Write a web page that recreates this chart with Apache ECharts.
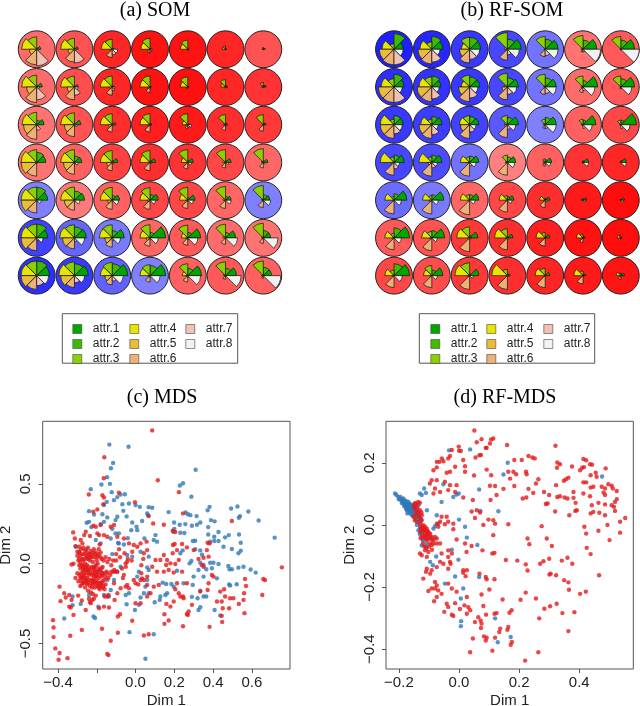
<!DOCTYPE html>
<html><head><meta charset="utf-8">
<style>html,body{margin:0;padding:0;background:#fff}#c{width:640px;height:706px}</style>
<script src="https://cdn.jsdelivr.net/npm/echarts@6/dist/echarts.min.js"></script>
</head><body><div id="c"></div>
<script>
const attrNames=['attr.1','attr.2','attr.3','attr.4','attr.5','attr.6','attr.7','attr.8'];
const attrColors=['#00A600','#3EBB00','#8BD000','#E6E600','#E9BD3A','#ECB176','#EFC2B3','#F2F2F2'];
const panelTitles=['(a) SOM','(b) RF-SOM','(c) MDS','(d) RF-MDS'];
/* background class score per map unit, row by row: + red, - blue */
const somScore=[.58,.68,.85,.93,.93,.85,.68, .58,.7,.85,.93,.94,.85,.8, .55,.68,.82,.88,.9,.82,.78, .55,.62,.75,.82,.8,.72,.6, -.5,.52,.62,.72,.72,.6,-.5, -.75,-.6,-.52,.6,.65,.58,.55, -.82,-.78,-.62,-.5,.62,.65,.62];
const rfScore=[-.88,-.85,-.78,-.72,-.55,.55,.65, -.82,-.8,-.78,-.72,-.55,.58,.65, -.78,-.76,-.74,-.65,-.5,.62,.72, -.72,-.7,-.55,.5,.62,.8,.85, -.58,-.52,.6,.72,.82,.9,.95, .65,.68,.78,.82,.88,.93,.95, .72,.7,.78,.82,.86,.9,.92];
/* codebook wedge lengths, one row of the map per line */
const somAttr1=[.22,.2,.1,.06,.05,.05,.1, .3,.2,.1,.05,.05,.1,.15, .4,.35,.2,.1,.1,.1,.15, .5,.4,.3,.3,.3,.3,.25, .6,.55,.4,.45,.4,.3,.35, .6,.65,.65,.85,.7,.55,.4, .7,.75,.85,.85,.75,.6,.45];
const somAttr2=[.08,.05,.03,.03,.03,.03,.05, .1,.05,.03,.03,.03,.05,.1, .25,.1,.05,.05,.05,.08,.1, .55,.35,.1,.1,.1,.1,.1, .7,.5,.25,.3,.15,.2,.3, .75,.6,.4,.3,.3,.3,.4, .8,.65,.65,.55,.4,.4,.45];
const somAttr3=[.68,.6,.55,.6,.5,.18,.1, .65,.6,.6,.6,.55,.4,.25, .68,.65,.6,.6,.6,.55,.55, .7,.7,.65,.65,.7,.7,.75, .72,.72,.7,.68,.7,.75,.8, .75,.72,.72,.72,.7,.75,.8, .8,.75,.72,.6,.65,.75,.8];
const somAttr4=[.82,.75,.6,.5,.4,.18,.05, .82,.75,.65,.55,.4,.25,.1, .8,.75,.65,.55,.3,.1,.05, .85,.75,.65,.55,.35,.15,.1, .85,.75,.65,.55,.45,.15,.1, .85,.8,.7,.55,.35,.15,.1, .85,.85,.65,.55,.3,.12,.1];
const somAttr5=[.4,.35,.1,.05,.03,.03,.02, .55,.4,.15,.1,.03,.03,.02, .72,.55,.2,.1,.1,.08,.05, .85,.6,.3,.05,.05,.05,.05, .85,.55,.25,.15,.08,.05,.05, .85,.65,.4,.2,.1,.05,.05, .85,.75,.4,.1,.1,.05,.05];
const somAttr6=[.85,.7,.45,.2,.05,.03,.02, .85,.7,.45,.3,.1,.05,.05, .8,.65,.4,.4,.2,.3,.35, .75,.65,.45,.45,.35,.3,.3, .7,.55,.5,.5,.45,.45,.4, .7,.6,.5,.45,.4,.35,.3, .75,.65,.5,.35,.35,.2,.15];
const somAttr7=[.9,.75,.3,.15,.08,.03,.02, .7,.45,.2,.08,.03,.05,.02, .3,.1,.08,.05,.15,.1,.05, .05,.1,.1,.05,.05,.05,.05, .1,.1,.08,.1,.08,.05,.1, .15,.2,.15,.1,.1,.05,.1, .55,.4,.3,.1,.1,.05,.05];
const somAttr8=[.12,.1,.3,.12,.05,.03,.02, .15,.2,.15,.08,.05,.08,.05, .1,.15,.1,.05,.2,.1,.05, .05,.2,.1,.1,.2,.15,.15, .25,.3,.35,.3,.3,.3,.4, .35,.55,.45,.45,.55,.65,.8, .65,.55,.6,.55,.7,.85,.95];
const rfAttr1=[.5,.6,.6,.75,.7,.75,.75, .55,.5,.55,.6,.6,.8,.75, .5,.55,.5,.6,.6,.7,.85, .55,.55,.5,.45,.35,.3,.3, .7,.65,.5,.35,.25,.2,.2, .85,.7,.45,.3,.25,.1,.05, .85,.6,.5,.15,.25,.15,.2];
const rfAttr2=[.85,.7,.65,.55,.55,.5,.5, .7,.6,.55,.5,.5,.35,.45, .5,.45,.45,.4,.4,.25,.25, .4,.4,.35,.3,.15,.1,.1, .35,.3,.3,.2,.1,.05,.03, .55,.4,.15,.1,.05,.05,.03, .65,.3,.1,.05,.05,.05,.1];
const rfAttr3=[.3,.4,.65,.9,.7,.75,.7, .45,.55,.65,.75,.7,.6,.6, .3,.3,.5,.5,.3,.3,.25, .3,.3,.3,.4,.2,.05,.05, .2,.25,.3,.25,.1,.1,.03, .25,.35,.6,.5,.3,.2,.15, .3,.55,.7,.35,.4,.25,.15];
const rfAttr4=[.65,.65,.45,.15,.05,.1,.05, .7,.7,.45,.15,.08,.1,.05, .75,.6,.55,.15,.1,.1,.05, .75,.7,.5,.1,.1,.05,.03, .5,.5,.5,.45,.3,.1,.05, .5,.55,.7,.7,.5,.35,.2, .5,.45,.8,.85,.55,.5,.25];
const rfAttr5=[.8,.75,.55,.1,.03,.05,.03, .85,.8,.6,.3,.03,.1,.03, .75,.7,.5,.15,.05,.05,.05, .15,.2,.15,.1,.1,.03,.03, .1,.15,.1,.1,.1,.03,.03, .1,.1,.1,.1,.05,.05,.03, .1,.1,.1,.05,.05,.03,.03];
const rfAttr6=[.85,.8,.75,.6,.4,.15,.05, .85,.8,.8,.7,.4,.3,.1, .75,.75,.75,.7,.2,.05,.05, .7,.75,.75,.7,.2,.03,.03, .75,.75,.8,.65,.4,.03,.03, .65,.7,.75,.65,.45,.25,.05, .65,.65,.75,.75,.65,.45,.2];
const rfAttr7=[.85,.7,.55,.3,.35,.15,.05, .85,.65,.6,.4,.35,.2,.1, .5,.55,.4,.25,.2,.2,.2, .35,.3,.2,.1,.1,.05,.05, .1,.1,.05,.05,.03,.03,.03, .05,.05,.05,.03,.03,.03,.03, .05,.05,.03,.03,.03,.03,.03];
const rfAttr8=[.5,.45,.55,.65,.7,.95,1, .45,.4,.45,.5,.6,.65,.6, .45,.35,.35,.45,.6,.5,.5, .3,.3,.35,.4,.3,.3,.3, .4,.35,.3,.25,.15,.15,.15, .4,.3,.1,.08,.05,.05,.05, .45,.3,.2,.1,.03,.03,.05];
const somAttrs=[somAttr1,somAttr2,somAttr3,somAttr4,somAttr5,somAttr6,somAttr7,somAttr8];
const rfAttrs=[rfAttr1,rfAttr2,rfAttr3,rfAttr4,rfAttr5,rfAttr6,rfAttr7,rfAttr8];
const mdsTicksX=[-0.4,-0.2,0,0.2,0.4,0.6], mdsLabelsX=[-0.4,0,0.2,0.4,0.6], mdsTicksY=[-0.5,0,0.5];
const rfTicksX=[-0.2,0,0.2,0.4], rfTicksY=[-0.4,-0.2,0,0.2];
const mdsBlue=[[-.135,.746],[-.036,.733],[-.116,.631],[-.127,.598],[.31,.588],[-.147,.542],[-.176,.496],[-.132,.5],[-.231,.467],[-.123,.448],[.229,.49],[.245,.504],[.288,.419],[-.055,.435],[-.077,.433],[-.094,.417],[-.111,.398],[-.149,.387],[-.163,.367],[-.068,.373],[-.034,.377],[0,.367],[.022,.356],[.068,.354],[.086,.35],[.171,.323],[.382,.356],[.372,.335],[.493,.346],[.526,.358],[.582,.327],[.539,.298],[.533,.288],[.635,.27],[.718,.163],[.259,.321],[.27,.31],[.283,.304],[.315,.298],[.389,.273],[.408,.265],[.334,.258],[.317,.244],[.291,.238],[.199,.258],[.228,.244],[.257,.248],[.375,.229],[.428,.198],[.375,.183],[.252,.192],[.231,.194],[.2,.217],[.195,.2],[.481,.179],[.462,.165],[.534,.183],[.406,.169],[.385,.138],[.406,.142],[.428,.142],[.296,.142],[.308,.144],[.543,.131],[.454,.106],[.497,.092],[.543,.081],[.531,.065],[.334,.083],[.308,.09],[.343,.056],[.243,.083],[.231,.065],[.288,.017],[.279,.002],[.334,.006],[.351,-.008],[.385,.006],[.402,.006],[.428,-.002],[.485,-.035],[.497,-.035],[.531,-.025],[.557,-.019],[.594,-.037],[.62,-.056],[.479,-.015],[.214,-.044],[.325,-.04],[.365,-.035],[.394,-.029],[.42,-.092],[.351,-.081],[.3,-.081],[.295,-.133],[.248,-.123],[.197,-.144],[.185,-.127],[.158,-.127],[.14,-.119],[.483,-.131],[.488,-.137],[.522,-.129],[.334,-.169],[.351,-.206],[.365,-.206],[.32,-.217],[.291,-.208],[.334,-.273],[.325,-.29],[.408,-.29],[.437,-.325],[.163,-.185],[.128,-.206],[.125,-.227],[.154,-.196],[.099,-.242],[.068,-.185],[.043,-.185],[.026,-.212],[.017,-.258],[-.003,-.29],[-.034,-.185],[-.051,-.196],[-.046,-.254],[.094,-.442],[-.031,-.429],[.051,-.596],[-.368,-.344],[-.217,-.331],[-.209,-.34],[-.192,-.269],[-.325,-.206],[-.325,-.26],[-.283,-.252],[-.24,-.196],[-.163,-.196],[-.137,-.206],[-.128,-.165],[-.146,-.102],[-.111,-.102],[-.094,-.05],[-.077,-.019],[.06,-.023],[.068,-.04],[.009,-.081],[.017,-.05],[.051,-.144],[.06,-.102],[-.043,.054],[-.017,.044],[.026,.075],[.068,.044],[.046,.158],[.103,.179],[.094,.148],[.111,.138],[.06,.315],[.065,.304],[.034,.267],[-.017,.258],[.005,.231],[-.022,.21],[.009,.21],[-.046,.296],[-.063,.331],[-.094,.294],[-.103,.273],[-.146,.29],[-.171,.31],[-.214,.308],[-.24,.329],[-.252,.256],[-.24,.262],[-.228,.229],[-.18,.248],[-.163,.262],[-.12,.219],[-.103,.19],[-.086,.19],[-.128,.158],[-.086,.127],[-.18,.127],[-.205,.148],[-.308,.106],[-.291,.075],[-.25,.04],[-.214,-.02],[-.17,-.06],[-.12,.06],[-.06,.12],[-.09,.13],[-.04,.16]];
const mdsRed=[[.086,.835],[.115,.523],[-.161,.667],[-.164,.535],[-.241,.433],[.224,.448],[-.086,.444],[-.003,.385],[-.171,.429],[-.163,.415],[-.166,.373],[-.197,.34],[-.218,.325],[.245,.315],[.068,.298],[.497,.267],[.091,.252],[.146,.244],[.192,.206],[.205,.198],[.755,-.023],[.659,-.096],[.668,-.102],[.654,-.196],[.565,-.096],[.57,-.14],[.56,-.185],[.557,-.227],[.562,-.31],[.533,-.252],[.505,-.217],[.488,-.217],[.462,-.206],[.457,-.16],[.437,-.175],[.42,-.237],[.445,-.237],[.45,-.279],[.483,-.279],[.445,-.327],[.447,-.365],[.382,-.396],[.245,-.392],[.334,-.175],[.372,-.165],[.377,-.123],[.402,-.081],[.394,-.071],[.351,-.019],[.342,-.008],[.368,.085],[.372,.131],[.382,.127],[.377,.044],[.351,.037],[.325,.029],[.3,.085],[.265,.102],[.24,.123],[.193,.117],[.202,.123],[.192,.065],[.146,.054],[.214,.085],[.223,.023],[.205,-.002],[.18,.002],[.163,.023],[.158,-.008],[.171,-.04],[.197,-.056],[.24,-.05],[.146,-.05],[.128,.023],[.103,.023],[.111,-.05],[.086,-.019],[.214,-.123],[.223,-.185],[.231,-.206],[.245,-.206],[.205,-.16],[.265,-.123],[.248,-.217],[.197,-.237],[.18,-.269],[.159,-.252],[.149,-.317],[.171,-.356],[.149,-.377],[.265,-.315],[.274,-.3],[.27,-.321],[.291,-.258],[.043,-.45],[.068,-.442],[-.017,-.358],[-.091,-.331],[-.08,-.317],[-.091,-.433],[-.128,-.483],[-.146,-.565],[-.14,-.573],[-.173,-.408],[-.277,-.415],[-.337,-.452],[-.351,-.592],[-.397,-.602],[-.392,-.56],[-.414,-.531],[-.423,-.46],[-.423,-.4],[-.426,-.354],[-.32,-.321],[-.342,-.269],[-.334,-.275],[-.387,-.235],[-.36,-.212],[-.368,-.185],[-.392,-.144],[-.342,-.196],[-.33,-.227],[-.296,-.2],[-.277,-.231],[-.257,-.29],[-.231,-.248],[-.223,-.227],[-.188,-.279],[-.163,-.269],[-.137,-.275],[-.108,-.227],[-.146,-.206],[-.159,-.206],[-.14,-.196],[-.094,-.185],[-.051,-.144],[-.077,-.154],[-.111,-.123],[-.043,-.133],[-.034,-.154],[0,-.248],[.026,-.248],[.06,-.206],[.077,-.185],[.094,-.144],[.12,-.133],[.06,-.133],[.043,-.102],[.026,-.102],[0,-.123],[.014,-.13],[.06,-.081],[.034,-.092],[-.009,-.102],
[-.322,.196],[-.313,.158],[-.283,.148],[-.274,.127],[-.291,.106],[-.3,.075],[-.265,.179],[-.257,.2],[-.235,.173],[-.205,.231],[-.18,.242],[-.197,.19],[-.188,.179],[-.218,.238],[-.163,.179],[-.146,.169],[-.128,.231],[-.111,.242],[-.094,.169],[-.06,.158],[-.034,.127],[-.009,.117],[.009,.106],[.026,.127],[.057,.138],[.06,.085],[.043,.065],[-.017,.075],[-.043,.012],[-.051,.002],[-.057,.065],[-.1,.02],[-.11,-.04],[-.105,-.05],[-.095,-.05],[-.07,-.03],[-.32,0],[-.33,-.005],
[-.31,.11],[-.3,.05],[-.295,.02],[-.29,-.01],[-.285,-.03],[-.28,-.06],[-.275,-.09],[-.27,-.12],[-.26,-.15],[-.25,-.13],[-.245,-.17],[-.24,-.22],[-.235,-.24],[-.23,-.18],[-.225,-.15],[-.22,-.11],[-.215,-.07],[-.21,-.04],[-.205,-.01],[-.2,.02],[-.195,.05],[-.19,.09],[-.185,.12],[-.18,.07],[-.175,.03],[-.17,-.02],[-.165,-.06],[-.16,-.1],[-.155,-.13],[-.17,-.15],[-.18,-.12],[-.19,-.09],[-.2,-.05],[-.21,-.02],[-.22,.01],[-.23,.04],[-.24,.06],[-.25,.03],[-.26,0],[-.27,-.03],[-.28,-.01],[-.29,.03],[-.3,-.06],[-.31,-.09],[-.295,-.11],[-.285,-.14],[-.275,.03],[-.265,.06],[-.255,.09],[-.245,.1],[-.235,.02],[-.225,-.02],[-.215,.04],[-.205,.07],[-.195,0],[-.185,-.04],[-.175,-.08],[-.165,.02],[-.155,.04],[-.145,.01],[-.135,.03],[-.125,-.01],[-.115,.02],[-.27,-.05],[-.265,-.07],[-.26,-.03],[-.255,-.06],[-.25,-.04],[-.245,-.02],[-.24,-.07],[-.28,-.08],[-.285,.01],[-.27,.02],[-.26,-.09],[-.25,-.11],[-.2,-.08],[-.215,-.09],[-.195,-.12],[-.185,-.16],[-.21,-.15],[-.22,-.19],[-.205,-.2],[-.215,-.22],[-.14,-.09],[-.13,-.07],[-.125,-.05],[-.115,-.05],[-.1,.06],[-.085,.09],[-.08,.04],[-.065,-.09],[-.06,-.07],[-.05,-.02],[-.04,.03],[-.02,.02],[.03,-.01],[.04,.03],[.03,-.06]];
const mdsRedDense=[[-.29,.07],[-.285,.05],[-.28,.09],[-.275,.06],[-.27,.1],[-.265,.03],[-.26,.08],[-.255,.05],[-.25,.07],[-.245,.04],[-.24,.03],[-.235,.06],[-.23,.08],[-.225,.05],[-.22,.07],[-.215,.09],[-.21,.06],[-.2,.04],[-.19,.06],[-.18,.04],[-.275,-.02],[-.27,-.01],[-.265,-.04],[-.26,-.02],[-.255,-.03],[-.25,-.01],[-.245,-.05],[-.24,-.04],[-.235,-.06],[-.23,-.03],[-.225,-.07],[-.22,-.05],[-.215,-.03],[-.21,-.06],[-.205,-.08],[-.2,-.07],[-.195,-.05],[-.19,-.03],[-.185,-.07],[-.18,-.05],[-.175,-.03],[-.17,-.07],[-.29,-.07],[-.285,-.09],[-.28,-.11],[-.275,-.13],[-.27,-.08],[-.265,-.1],[-.26,-.12],[-.255,-.11],[-.25,-.09],[-.245,-.12],[-.24,-.1],[-.235,-.14],[-.23,-.12],[-.225,-.1],[-.22,-.13],[-.215,-.12],[-.21,-.11],[-.205,-.13],[-.2,-.11],[-.195,-.14],[-.19,-.15],[-.185,-.13],[-.18,-.14],[-.175,-.12],[-.17,-.11],[-.165,-.14],[-.16,-.16],[-.155,-.08],[-.15,-.05],[-.145,-.06]];
const rfBlue=[[-.213,.101],[-.208,.096],[-.202,.09],[-.197,.083],[-.191,.077],[-.186,.071],[-.183,.067],[-.18,.063],[-.177,.06],[-.172,.058],[-.169,.052],[-.166,.049],[-.163,.045],[-.157,.042],[-.172,.037],[-.152,.037],[-.16,.052],[-.18,.074],[-.169,.067],[-.152,.052],[-.175,.065],[-.146,.047],[-.14,.031],[-.135,.01],[-.13,-.006],[-.135,-.017],[-.124,-.028],[-.12,-.05],[-.124,-.066],[-.107,-.06],[-.102,-.039],[-.085,-.012],[-.08,-.004],[-.069,.004],[-.074,.031],[-.107,.047],[-.135,.063],[-.13,.101],[-.124,.096],[-.116,.117],[-.11,.103],[-.052,.131],[-.058,.074],[-.019,.09],[-.008,.098],[-.001,.101],[0,.017],[.02,-.006],[.026,-.041],[.061,-.065],[-.024,-.08],[-.076,-.102],[-.096,-.119],[-.087,-.13],[-.047,-.189],[-.013,-.166],[-.002,-.112],[.014,-.205],[.006,-.237],[.007,-.31],[.006,-.326],[.12,-.301],[.172,-.361],[.129,-.378],[.067,-.168],[.067,.114],[.071,.045],[.131,.044],[.148,.162],[.162,.2],[.476,.156],[-.033,.24],[.037,.243],[-.175,.055],[-.17,.06],[-.165,.058],[-.16,.045],[-.155,.06],[-.15,.045],[-.165,.04],[-.16,.035],[-.155,.03],[-.148,.028],[-.19,.082],[-.185,.078],[-.178,.07],[-.172,.07],[-.145,.02],[-.14,0],[-.13,.015],
[-.2,.082],[-.195,.09],[-.19,.07],[-.185,.085],[-.182,.06],[-.178,.078],[-.176,.052],[-.174,.048],[-.17,.075],[-.168,.045],[-.166,.07],[-.164,.055],[-.162,.066],[-.16,.062],[-.158,.05],[-.156,.055],[-.154,.04],[-.152,.065],[-.15,.055],[-.148,.04],[-.145,.055],[-.143,.04],[-.14,.02],[-.135,.04],[-.132,.03],[-.128,.01],[-.126,-.018],[-.13,-.03],[-.122,-.045],[-.11,-.07]];
const rfRed=[[.051,.304],[.075,.276],[.059,.266],[.107,.275],[.114,.278],[.103,.262],[.089,.248],[.092,.248],[-.001,.252],[0,.239],[-.024,.241],[.006,.238],[.068,.224],[.055,.217],[.073,.225],[.16,.257],[.321,.255],[.184,.209],[.209,.209],[.231,.222],[.244,.217],[.252,.214],[.327,.201],[.336,.195],[.326,.184],[.414,.212],[.423,.208],[.436,.195],[.443,.194],[.376,.188],[.403,.176],[.416,.186],[.41,.184],[.488,.182],[.455,.168],[.438,.16],[.458,.155],[.364,.152],[.356,.147],[.349,.142],[.323,.128],[.414,.137],[.423,.137],[.497,.131],[.508,.126],[.512,.117],[.525,.109],[.475,.123],[.486,.117],[.447,.123],[.438,.12],[.381,.106],[.414,.101],[.436,.092],[.481,.104],[.486,.096],[.525,.083],[.519,.074],[.508,.063],[.516,.058],[.519,.045],[.553,.022],[.536,.01],[.494,0],[.536,-.025],[.501,-.049],[.464,-.019],[.423,-.028],[.417,-.006],[.425,-.074],[.438,-.094],[.466,-.162],[.422,-.215],[.403,-.222],[.384,-.281],[.364,-.342],[.344,-.284],[.325,-.254],[.303,-.262],[.284,-.27],[.267,-.301],[.264,-.41],[.22,-.437],[.256,-.237],[.222,-.218],[.205,-.241],[.175,-.275],[.168,-.283],[.145,-.24],[.125,-.284],[.118,-.286],[.081,-.261],[.075,-.224],[.101,-.208],[.118,-.175],[.089,-.168],[.092,-.175],[.068,-.157],[.026,-.146],[.014,-.154],[.022,-.165],[.026,-.232],[.018,-.259],[.031,-.265],[.037,-.275],[.064,-.297],[.072,-.308],[.075,-.318],[.073,-.332],[.053,-.313],[.09,-.289],[.137,-.334],[.134,-.345],[.164,-.329],[.161,-.338],[.176,-.377],[.172,-.386],[.12,-.363],[.092,-.363],[.083,-.359],[.089,-.372],[.111,-.405],[.046,-.366],[.037,-.41],[.264,.147],[.256,.133],[.231,.116],[.223,.171],[.225,.163],[.181,.171],[.19,.163],[.164,.171],[.17,.149],[.184,.125],[.148,.116],[.12,.125],[.103,.126],[.107,.16],[.092,.178],[.05,.159],[.125,.096],[.105,.08],[.212,.085],[.224,.088],[.247,.103],[.283,.106],[.3,.096],[.295,.069],[.289,.067],[.32,.043],[.327,.09],[.336,.092],[.351,.088],[.361,.085],[.381,.087],[.388,.071],[.387,.045],[.392,.047],[.367,.031],[.438,.037],[.447,.042],[.467,.039],[.486,.031],[.442,.063],[.464,.071],[.486,.066],[.275,-.004],[.292,-.044],[.309,-.068],[.228,-.044],[.234,-.062],[.164,.002],[.114,-.033],[.118,-.09],[.111,-.092],[.156,-.113],[.194,-.115],[.222,-.127],[.228,-.147],[.27,-.125],[.281,-.117],[.3,-.109],[.342,-.115],[.361,-.106],[.377,-.125],[.301,-.16],[.305,-.157],[.323,-.162],[.35,-.178],[.364,-.185],[.366,-.209],[.042,.043],[.07,.04],[.059,.047],[.053,.022],[.098,.017],[.114,.015],[.081,0],[.12,.004],[.046,.08],[.014,.088],[-.013,.106],[-.008,.128],[.02,.171],[.014,.209],[.02,.189],[-.013,.187],[-.03,.171],[-.041,.168],[-.052,.205],[-.074,.203],[-.065,.203],[-.085,.176],[-.074,.185],[-.057,.214],[-.036,.214],[-.03,.222],[-.097,.133],[-.091,.144],[-.074,.144],[-.08,.117],[-.063,.106],[-.085,.101],[-.036,.112],[-.03,.128],[-.047,.139],[-.041,.026],[-.036,.01],[-.058,.026],[-.019,.004],[-.047,.002],[-.063,.01],[-.069,-.006],[-.074,.004],[-.019,-.014],[-.008,-.047],[.02,-.06],[.042,-.068],[.078,-.082],[.025,-.087],
[-.147,.069],[-.141,.063],[-.136,.074],[-.13,.071],[-.147,.052],[-.141,.042],[-.136,.037],[-.13,.047],[-.124,.031],[-.152,.026],[-.147,.015],[-.141,.01],[-.13,.004],[-.124,.015],[-.119,-.001],[-.113,-.006],[-.107,-.012],[-.124,-.012],[-.119,-.017],[-.102,-.023],[-.113,-.028],[-.13,-.023],[-.107,-.033],[-.096,-.028],[-.091,-.039],[-.08,-.039],[-.085,-.049],[-.096,-.06],[-.074,-.044],[-.107,-.049],[-.091,-.065],[-.113,-.082],[-.102,-.087],[-.107,-.103],[-.124,-.098],[-.13,-.092],[-.074,-.06],
[-.063,-.06],[-.058,-.092],[-.036,-.082],[-.024,-.092],[-.036,-.103],[-.063,-.119],[-.03,-.119],[-.028,-.125],[-.052,-.125],[-.036,-.141],[-.074,-.136],[-.107,-.141],[-.11,-.151],[-.096,-.157],[-.091,-.146],[-.119,-.173],[-.08,-.184],[-.074,-.195],[-.091,-.205],[-.102,-.213],[-.08,-.205],[-.069,-.211],[-.058,-.222],[-.074,-.232],[-.083,-.246],[-.041,-.254],[-.013,-.252],[-.036,-.264],[-.049,-.28],[-.024,-.289],[-.019,-.293],[.003,-.271],[.026,-.286],[-.036,-.189],[-.024,-.205],[-.008,-.215],[.014,-.146],
[-.128,-.01],[-.122,-.005],[-.118,-.02],[-.115,-.013],[-.11,-.018],[-.105,-.02],[-.112,-.035],[-.105,-.028],[-.1,-.03],[-.122,-.035],[-.116,-.04],[-.11,-.045],[-.1,-.045],[-.095,-.04],[-.09,-.048],[-.127,.02],[-.133,.025],[-.138,.052],[-.143,.032],[-.128,-.042],[-.12,-.06],[-.115,-.07],[-.108,-.075],[-.1,-.07],[-.09,-.08],[-.085,-.06],[-.125,.04],[-.15,.06],[-.145,.07]];

const option={animation:false,backgroundColor:'#fff',
 title:panelTitles.map((t,i)=>({text:t,left:[150,507,157,500][i],top:[-4,-4,383,383][i],textAlign:'center',
   textStyle:{fontFamily:'"Liberation Serif",serif',fontWeight:'normal',fontSize:20,color:'#000'}})),
 grid:[{left:17.8,top:30.4,width:264.4,height:264.1,show:false,outerBoundsMode:'none'},{left:375.1,top:30.4,width:264.6,height:264.1,show:false,outerBoundsMode:'none'},
       {left:42.7,top:421.3,width:247.3,height:247.7,show:true,borderColor:'#555',borderWidth:1,outerBoundsMode:'none'},
       {left:386,top:421.3,width:247.3,height:247.7,show:true,borderColor:'#555',borderWidth:1,outerBoundsMode:'none'}],
 xAxis:[],yAxis:[],series:[],legend:[],
 graphic:[[62.3,313.7],[419.3,313.7]].map(p=>({type:'rect',shape:{x:p[0],y:p[1],width:175.4,height:49.5},style:{fill:'#fff',stroke:'#555',lineWidth:1},z:-1}))};
const sans='"Liberation Sans",Arial,sans-serif';
const fmt=v=>v.toFixed(1).replace('-','\u2212');
for(let g=0;g<2;g++){
 option.xAxis.push({gridIndex:g,type:'value',min:-.5,max:6.5,show:false});
 option.yAxis.push({gridIndex:g,type:'value',min:-.5,max:6.5,inverse:true,show:false});
}
function sciAxis(g,dimX,dimY,xr,yr,xt,xl,yt,nameGapY,nameGapX){
 const ax=(pos,r,tks,lbl,name,gap,rot)=>({gridIndex:g,type:'value',min:r[0],max:r[1],position:pos,name:name,nameLocation:'middle',nameGap:gap,
   nameRotate:rot,nameTextStyle:{fontFamily:sans,fontSize:15,color:'#222'},
   axisLine:{show:false,onZero:false},splitLine:{show:false},
   axisTick:{show:true,length:4,inside:false,customValues:tks,lineStyle:{color:'#555',width:1}},
   axisLabel:{show:true,customValues:lbl,formatter:fmt,fontFamily:sans,fontSize:15,color:'#222',margin:pos==='bottom'?6:9,rotate:pos==='left'?90:0,showMinLabel:true,showMaxLabel:true}});
 option.xAxis.push(ax('bottom',xr,xt,xl,dimX,nameGapX,0));
 option.yAxis.push(ax('left',yr,yt,yt,dimY,nameGapY,90));
}
sciAxis(2,'Dim 1','Dim 2',[-.479,.797],[-.66,.892],mdsTicksX,mdsLabelsX,mdsTicksY,29,24);
sciAxis(3,'Dim 1','Dim 2',[-.243,.58],[-.464,.3335],rfTicksX,rfTicksX,rfTicksY,29,24);
const scoreColor=s=>{const k=Math.round(255*(1-Math.abs(s)));return s>=0?`rgb(255,${k},${k})`:`rgb(${k},${k},255)`;};
const R=.488;
function addMap(g,scores,attrs){
 option.series.push({type:'custom',xAxisIndex:g,yAxisIndex:g,silent:true,clip:false,encode:{x:0,y:1},
  data:scores.map((s,i)=>[i%7,Math.floor(i/7),s]),
  renderItem:(p,api)=>{const c=api.coord([api.value(0),api.value(1)]);const r=api.size([1,1])[0]*R;
   return {type:'circle',shape:{cx:c[0],cy:c[1],r},style:{fill:scoreColor(api.value(2)),stroke:'#222',lineWidth:1}};}});
 attrs.forEach((arr,k)=>option.series.push({type:'custom',name:attrNames[k],xAxisIndex:g,yAxisIndex:g,silent:true,clip:false,encode:{x:0,y:1},
  itemStyle:{color:attrColors[k],borderColor:'#333',borderWidth:.7},
  data:arr.map((v,i)=>[i%7,Math.floor(i/7),v]),
  renderItem:(p,api)=>{const c=api.coord([api.value(0),api.value(1)]);const r=api.size([1,1])[0]*R*api.value(2);
   return {type:'sector',shape:{cx:c[0],cy:c[1],r0:0,r,startAngle:-(k+1)*Math.PI/4,endAngle:-k*Math.PI/4,clockwise:true},
    style:{fill:attrColors[k],stroke:'#111',lineWidth:.7}};}}));
}
addMap(0,somScore,somAttrs);addMap(1,rfScore,rfAttrs);
[[2,mdsBlue,mdsRed.concat(mdsRedDense)],[3,rfBlue,rfRed]].forEach(([g,b,r])=>{
 option.series.push({type:'scatter',name:'blue',xAxisIndex:g,yAxisIndex:g,symbolSize:4.4,itemStyle:{color:'#2F78B8'},data:b,silent:true});
 option.series.push({type:'scatter',name:'red',xAxisIndex:g,yAxisIndex:g,symbolSize:4.4,itemStyle:{color:'#E41A1C'},data:r,silent:true});
});
[[72.5,129.5,185.5],[430.5,486.5,543.5]].forEach(xs=>{
 [[0,3],[3,6],[6,8]].forEach((rg,j)=>option.legend.push({left:xs[j],top:323,orient:'vertical',itemWidth:9,itemHeight:9,itemGap:3,selectedMode:false,padding:0,icon:'rect',
  itemStyle:{borderColor:'#444',borderWidth:.6},
  data:attrNames.slice(rg[0],rg[1]),textStyle:{fontFamily:sans,fontSize:12,color:'#222',padding:[0,0,0,6]}}));
});
echarts.init(document.getElementById('c'),null,{renderer:'canvas'}).setOption(option);
</script></body></html>
